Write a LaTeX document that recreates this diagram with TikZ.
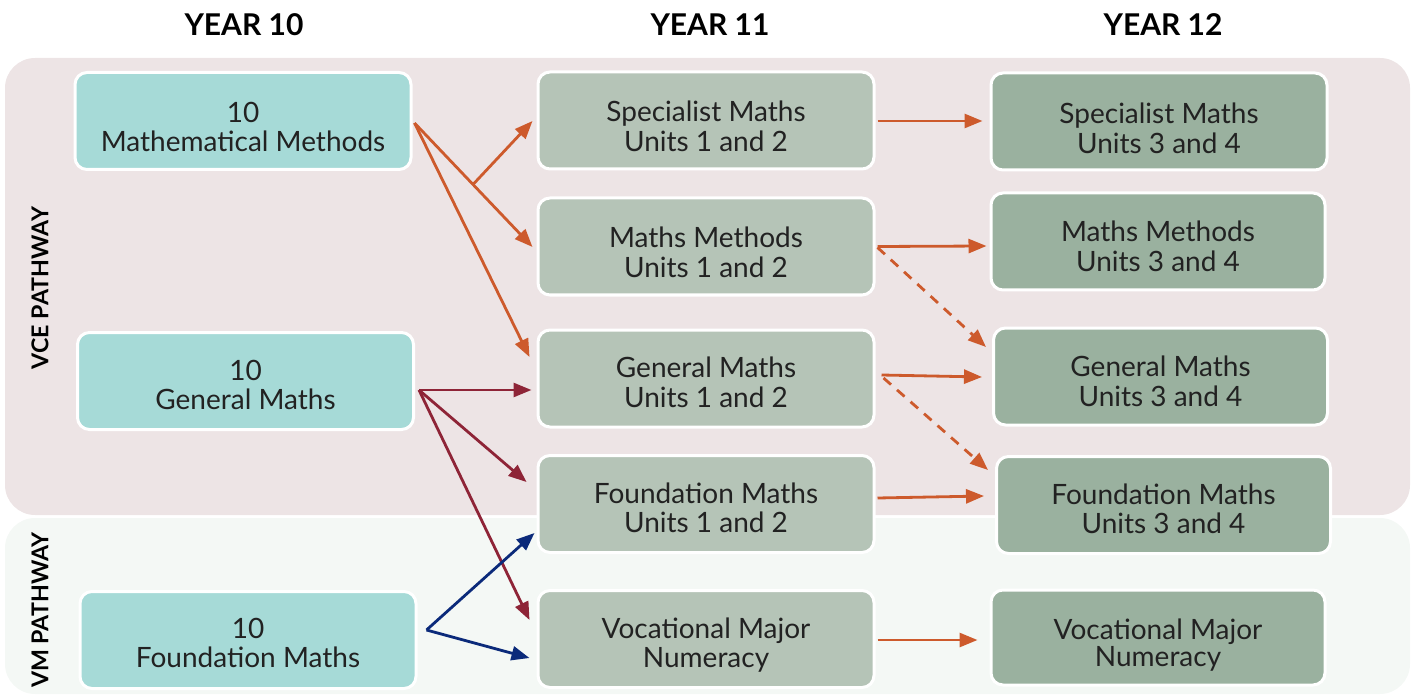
\documentclass[tikz,border=0pt]{standalone}
\usepackage{fontspec}
\setmainfont{Lato}
\usetikzlibrary{calc,arrows.meta}
\definecolor{vcebg}{HTML}{EDE4E5}
\definecolor{vmbg}{HTML}{F4F8F5}
\definecolor{tealbox}{HTML}{A6DAD7}
\definecolor{yelevbox}{HTML}{B5C4B7}
\definecolor{ytwelvebox}{HTML}{9AB19F}
\definecolor{txt}{HTML}{222222}
\definecolor{orng}{HTML}{CD5A2C}
\definecolor{dred}{HTML}{8E2437}
\definecolor{navy}{HTML}{0B2A7A}
\newcommand\twolines[3][4.5pt]{\raisebox{-#1}[\height][\depth]{\begin{tabular}{@{}c@{}}#2\\#3\end{tabular}}}
\tikzset{
  box/.style={draw=white, line width=1.5pt, rounded corners=6pt,
    minimum width=168pt, minimum height=48.5pt, inner sep=0pt, text=txt,
    font=\fontsize{14}{14.5}\selectfont},
  ten/.style={box, fill=tealbox},
  eleven/.style={box, fill=yelevbox},
  twelve/.style={box, fill=ytwelvebox},
  head/.style={font=\bfseries\fontsize{15}{16}\selectfont, text=black},
  side/.style={font=\bfseries\fontsize{11.6}{13}\selectfont, text=black, rotate=90},
  arr/.style={line width=1.4pt, -{Triangle[length=9pt,width=7pt]}},
  dsh/.style={arr, dash pattern=on 5pt off 4pt},
}
\begin{document}
\begin{tikzpicture}[x=0.5pt,y=-0.5pt]
\useasboundingbox (0,0) rectangle (1413,695);
% bands
\fill[vcebg, rounded corners=15pt] (5,58) rectangle (1410,515);
\fill[vmbg, rounded corners=15pt] (5,518) rectangle (1410,694);
% headers
\node[head] (h10) at (244,25) {YEAR 10};
\node[head] (h11) at (710,25) {YEAR 11};
\node[head] (h12) at (1163,25) {YEAR 12};
\node[side] (vce) at (40,288) {VCE PATHWAY};
\node[side] (vm) at (40,610) {VM PATHWAY};
% year 10
\node[ten] (mm10) at (243,121) {\twolines[5pt]{10}{Mathematical Methods}};
\node[ten] (gm10) at (245.5,381) {\twolines[4pt]{10}{General Maths}};
\node[ten] (fm10) at (248,640) {\twolines[3.5pt]{10}{Foundation Maths}};
% year 11
\node[eleven] (spec11) at (706,120.5) {\twolines[5pt]{Specialist Maths}{Units 1 and 2}};
\node[eleven] (meth11) at (706,246.5) {\twolines[5pt]{Maths Methods}{Units 1 and 2}};
\node[eleven] (gen11) at (706,378.5) {\twolines[4pt]{General Maths}{Units 1 and 2}};
\node[eleven] (found11) at (706,504) {\twolines[4pt]{Foundation Maths}{Units 1 and 2}};
\node[eleven] (vm11) at (706,639) {\twolines[4pt]{Vocational Major}{Numeracy}};
% year 12
\node[twelve] (spec12) at (1159,121.5) {\twolines[5.5pt]{Specialist Maths}{Units 3 and 4}};
\node[twelve, minimum width=167pt] (meth12) at (1158,241.5) {\twolines{Maths Methods}{Units 3 and 4}};
\node[twelve, minimum width=167pt] (gen12) at (1160.5,376.5) {\twolines{General Maths}{Units 3 and 4}};
\node[twelve, minimum width=167pt] (found12) at (1163.5,505) {\twolines[4pt]{Foundation Maths}{Units 3 and 4}};
\node[twelve, minimum width=167pt, minimum height=47.5pt, font=\fontsize{14}{12.5}\selectfont] (vm12) at (1158,637.5) {\twolines{Vocational Major}{Numeracy}};
% orange from MM10
\coordinate (mmS) at ($(mm10.east)+(2,2)$);
\coordinate (br) at (473,184.5);
\draw[arr, orng] (mmS) -- ($(meth11.west)+(-4,0.5)$);
\draw[arr, orng] (br) -- ($(spec11.west)+(-4,0.5)$);
\draw[arr, orng] (mmS) -- ($(gen11.west)+(-7,-21.5)$);
% dark red from GM10
\coordinate (gmS) at ($(gm10.east)+(4,9)$);
\draw[arr, dred] (gmS) -- ($(gen11.west)+(-5,11.5)$);
\draw[arr, dred] (gmS) -- ($(found11.west)+(-10,-22)$);
\draw[arr, dred] (gmS) -- ($(vm11.west)+(-7,-19)$);
% navy from FM10
\coordinate (fmS) at ($(fm10.east)+(9,-10)$);
\draw[arr, navy] (fmS) -- ($(found11.west)+(-2,29)$);
\draw[arr, navy] (fmS) -- ($(vm11.west)+(-7,19)$);
% year 11 -> 12
\draw[arr, orng] ($(spec11.east)+(2,0.5)$) -- ($(spec12.west)+(-7,-0.5)$);
\draw[arr, orng] ($(meth11.east)+(2,0)$) -- ($(meth12.west)+(-3,4.5)$);
\draw[dsh, orng] ($(meth11.east)+(2,1)$) -- ($(gen12.west)+(-6,-29.5)$);
\draw[arr, orng] ($(gen11.east)+(6,-3.5)$) -- ($(gen12.west)+(-10,0.5)$);
\draw[dsh, orng] ($(gen11.east)+(8,-0.5)$) -- ($(found12.west)+(-7,-35)$);
\draw[arr, orng] ($(found11.east)+(2,-6)$) -- ($(found12.west)+(-11,-9)$);
\draw[arr, orng] ($(vm11.east)+(2,1)$) -- ($(vm12.west)+(-12,2.5)$);
\end{tikzpicture}
\end{document}
